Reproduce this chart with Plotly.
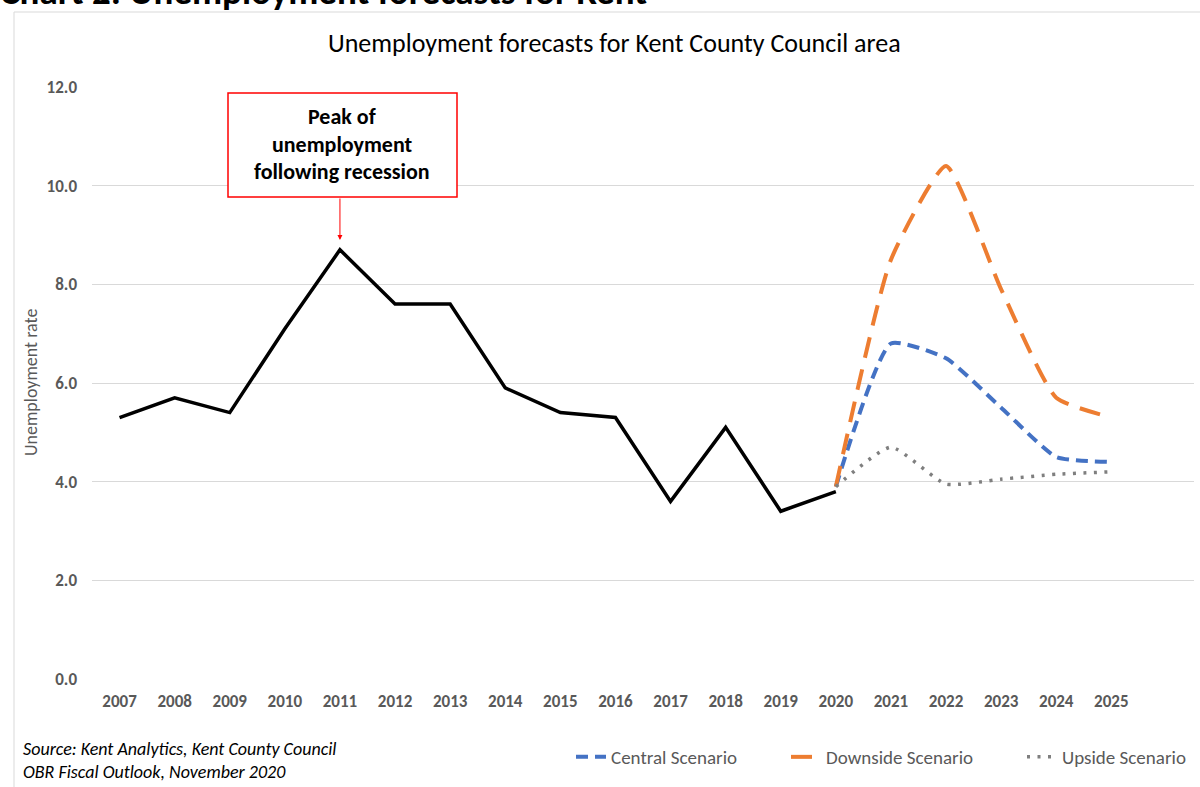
import plotly.graph_objects as go

# ---- data ----
actual_years = [2007, 2008, 2009, 2010, 2011, 2012, 2013, 2014, 2015, 2016, 2017, 2018, 2019, 2020]
actual_rate = [5.3, 5.7, 5.4, 7.1, 8.7, 7.6, 7.6, 5.9, 5.4, 5.3, 3.6, 5.1, 3.4, 3.8]

forecast_years = [2020, 2021, 2022, 2023, 2024, 2025]
central = [3.9, 6.8, 6.5, 5.5, 4.5, 4.4]
downside = [3.9, 8.5, 10.4, 7.9, 5.7, 5.3]
upside = [3.9, 4.7, 3.95, 4.05, 4.15, 4.2]

x_ticks = list(range(2007, 2026))
y_ticks = [0, 2, 4, 6, 8, 10, 12]

callout_lines = ["Peak of", "unemployment", "following recession"]

FONT = "Carlito, Lato, sans-serif"
GREY = "#595959"

# plot-area geometry in pixels (for placing paper-referenced elements)
W, H = 1200, 787
L, R, T, B = 92, 6, 87, 108
PW, PH = W - L - R, H - T - B


def px(x):
    return (x - L) / PW


def py(y):
    return (H - B - y) / PH


fig = go.Figure()

fig.add_trace(go.Scatter(
    x=actual_years, y=actual_rate, mode="lines",
    line=dict(color="#000000", width=3.5),
    showlegend=False, name="Actual"))

fig.add_trace(go.Scatter(
    x=forecast_years, y=central, mode="lines", name="Central Scenario", legend="legend",
    line=dict(color="#4472C4", width=4, dash="12px,7px", shape="spline", smoothing=0.5)))

fig.add_trace(go.Scatter(
    x=forecast_years, y=downside, mode="lines", name="Downside Scenario", legend="legend2",
    line=dict(color="#ED7D31", width=4, dash="21px,12px", shape="spline", smoothing=0.5)))

fig.add_trace(go.Scatter(
    x=forecast_years, y=upside, mode="lines", name="Upside Scenario", legend="legend3",
    line=dict(color="#7F7F7F", width=3.5, dash="3px,7.5px", shape="spline", smoothing=0.5)))

legend_common = dict(orientation="h", xanchor="left", y=py(757), yanchor="middle",
                     font=dict(family=FONT, size=19, color=GREY),
                     bgcolor="rgba(0,0,0,0)", borderwidth=0)

fig.update_layout(
    width=W, height=H,
    margin=dict(l=L, r=R, t=T, b=B),
    paper_bgcolor="white", plot_bgcolor="white",
    font=dict(family=FONT, color=GREY),
    showlegend=True,
    legend=dict(x=px(571), **legend_common),
    legend2=dict(x=px(786), **legend_common),
    legend3=dict(x=px(1022), **legend_common),
    xaxis=dict(range=[2006.5, 2026.5], tickmode="array", tickvals=x_ticks,
               ticktext=[f"<b>{y}</b>" for y in x_ticks], showgrid=False, zeroline=False,
               showline=False, ticks="", ticklabelstandoff=10,
               tickfont=dict(family=FONT, size=17, color=GREY)),
    yaxis=dict(range=[0, 12], tickmode="array", tickvals=y_ticks,
               ticktext=[f"<b>{v:.1f}</b>" for v in y_ticks], showgrid=True,
               gridcolor="#D9D9D9", gridwidth=1, zeroline=False, showline=False, ticks="",
               ticklabelstandoff=14, tickfont=dict(family=FONT, size=17, color=GREY)),
)

# chart-area border (partly off-page)
fig.add_shape(type="rect", xref="paper", yref="paper",
              x0=px(14), x1=px(1260), y0=py(830), y1=py(12),
              line=dict(color="#D9D9D9", width=1), layer="below")

# cut-off page heading
fig.add_annotation(text="<b>Chart 2: Unemployment forecasts for Kent</b>", xref="paper", yref="paper",
                   x=px(-2), y=py(-8), xanchor="left", yanchor="middle", showarrow=False,
                   font=dict(family=FONT, size=37, color="#000000"))

# chart title
fig.add_annotation(text="Unemployment forecasts for Kent County Council area", xref="paper", yref="paper",
                   x=px(614), y=py(43), xanchor="center", yanchor="middle", showarrow=False,
                   font=dict(family=FONT, size=26, color="#000000"))

# y axis title
fig.add_annotation(text="Unemployment rate", xref="paper", yref="paper",
                   x=px(31), y=py(383), xanchor="center", yanchor="middle", showarrow=False,
                   textangle=-90, font=dict(family=FONT, size=18, color=GREY))

# peak callout: box, text lines, arrow
fig.add_shape(type="rect", xref="paper", yref="paper",
              x0=px(228), x1=px(457), y0=py(197), y1=py(93),
              line=dict(color="#FF0000", width=1.5), fillcolor="white")
for i, line_txt in enumerate(callout_lines):
    fig.add_annotation(text=f"<b>{line_txt}</b>", xref="paper", yref="paper",
                       x=px(342), y=py(117 + 27 * i), xanchor="center", yanchor="middle",
                       showarrow=False, font=dict(family=FONT, size=22, color="#000000"))
fig.add_annotation(text="", x=2011, y=(679 - 240) / 49.33, xref="x", yref="y",
                   ax=0, ay=-43, showarrow=True, arrowhead=2, arrowsize=1, arrowwidth=1,
                   arrowcolor="#FF0000", standoff=0, startstandoff=0)

# source note
fig.add_annotation(text="<i>Source: Kent Analytics, Kent County Council<br>OBR Fiscal Outlook, November 2020</i>",
                   xref="paper", yref="paper", x=px(21), y=py(760), xanchor="left", yanchor="middle",
                   align="left", showarrow=False, font=dict(family=FONT, size=18, color="#000000"))

fig.write_html("out.html")
